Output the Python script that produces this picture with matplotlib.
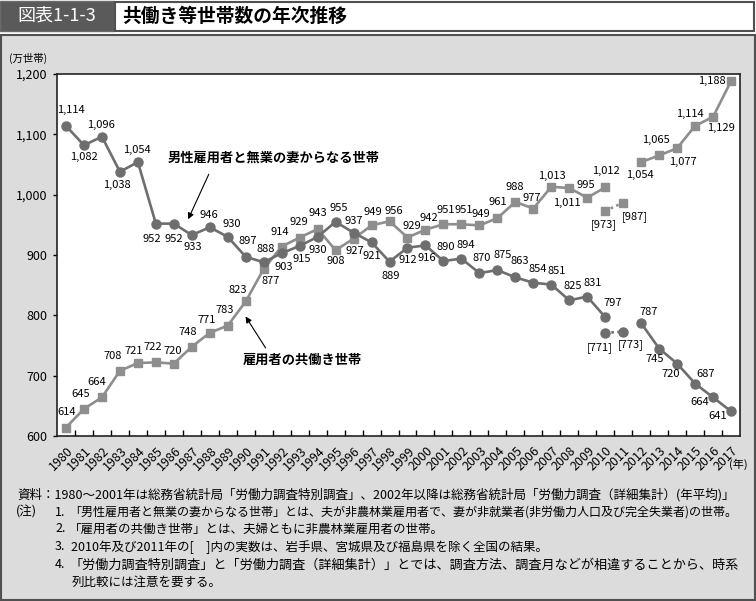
import numpy as np
import matplotlib
matplotlib.use('Agg')
import matplotlib.pyplot as plt
from matplotlib.patches import Rectangle
from matplotlib.transforms import ScaledTranslation

plt.rcParams['font.family'] = ['Noto Sans CJK JP', 'DejaVu Sans']

# ---------------- data ----------------
years = list(range(1980, 2018))
year_labels = [str(y) for y in years]
male_only = [1114, 1082, 1096, 1038, 1054, 952, 952, 933, 946, 930,
             897, 888, 903, 915, 930, 955, 937, 921, 889, 912,
             916, 890, 894, 870, 875, 863, 854, 851, 825, 831,
             797, None, 787, 745, 720, 687, 664, 641]
dual_income = [614, 645, 664, 708, 721, 722, 720, 748, 771, 783,
               823, 877, 914, 929, 943, 908, 927, 949, 956, 929,
               942, 951, 951, 949, 961, 988, 977, 1013, 1011, 995,
               1012, None, 1054, 1065, 1077, 1114, 1129, 1188]
bracket_years = [2010, 2011]
male_only_bracket = [771, 773]
dual_income_bracket = [973, 987]
yticks = [600, 700, 800, 900, 1000, 1100, 1200]

series_male_name = '男性雇用者と無業の妻からなる世帯'
series_dual_name = '雇用者の共働き世帯'
fig_no = '図表1-1-3'
title = '共働き等世帯数の年次推移'
notes = [
    ('資料：1980～2001年は総務省統計局「労働力調査特別調査」、2002年以降は総務省統計局「労働力調査（詳細集計）(年平均)」', 17, 495, 721),
    ('(注)', 16, 512, None),
    ('1.', 55, 512, None),
    ('「男性雇用者と無業の妻からなる世帯」とは、夫が非農林業雇用者で、妻が非就業者(非労働力人口及び完全失業者)の世帯。', 69, 512, 671),
    ('2.', 55, 529, None),
    ('「雇用者の共働き世帯」とは、夫婦ともに非農林業雇用者の世帯。', 69, 529, None),
    ('3.', 55, 547, None),
    ('2010年及び2011年の[　]内の実数は、岩手県、宮城県及び福島県を除く全国の結果。', 71, 547, None),
    ('4.', 55, 565, None),
    ('「労働力調査特別調査」と「労働力調査（詳細集計）」とでは、調査方法、調査月などが相違することから、時系', 69, 565, 669),
    ('列比較には注意を要する。', 72, 582, None),
]

# label offsets in pixels (dx, dy), layout only
male_off = [(5, 16), (0, -12), (-1, 12), (-3, -13), (-1, 12), (-4, -15), (0, -15), (1, -12), (-1, 12), (4, 13),
            (2, 16), (2, 13), (2, -14), (2, -13), (0, -13), (3, 14), (0, 12), (0, -14), (1, -14), (0, -12),
            (1, -13), (2, 14), (4, 14), (2, 15), (5, 15), (4, 16), (4, 14), (5, 14), (4, 14), (5, 14),
            (8, 14), None, (8, 11), (-4, -10), (-6, -10), (11, 10), (-13, -5), (-13, -5)]
dual_off = [(1, 16), (-3, 15), (-5, 15), (-7, 15), (-4, 12), (-3, 15), (-1, 13), (-4, 15), (-3, 13), (-3, 16),
            (-8, 11), (7, -12), (-2, 15), (-1, 16), (0, 16), (0, -11), (1, -12), (1, 13), (4, 10), (4, 12),
            (3, 12), (2, 14), (2, 14), (1, 11), (0, 16), (-1, 15), (-2, 11), (1, 11), (-2, -15), (-1, 13),
            (1, 16), None, (-1, -13), (-3, 15), (6, -14), (-5, 12), (8, -11), (-19, 0)]
male_br_off = [(-5, -15), (8, -13)]
dual_br_off = [(-1, -14), (12, -14)]

# ---------------- figure ----------------
W, H = 756, 601
fig = plt.figure(figsize=(W / 100, H / 100), dpi=100)

bg = fig.add_axes([0, 0, 1, 1])
bg.set_xlim(0, W)
bg.set_ylim(H, 0)
bg.axis('off')
bg.add_patch(Rectangle((0, 1), 114, 30, fc='#5a5a5a', ec='#6a6a6a', lw=1))
bg.add_patch(Rectangle((115, 1.5), 639, 29, fc='white', ec='#505050', lw=1.5))
bg.add_patch(Rectangle((1, 35), 754, 565, fc='#dcdcdc', ec='#505050', lw=1.5))
bg.text(57, 16, fig_no, color='white', fontsize=13, ha='center', va='center')
bg.text(122, 16, title, fontsize=13.5, weight='bold', ha='left', va='center')
bg.text(9, 58, '(万世帯)', fontsize=7.5, ha='left', va='center')
bg.text(738, 464, '(年)', fontsize=8, ha='center', va='center')

ax = fig.add_axes([57 / W, 1 - 436 / H, 683 / W, 362 / H])
ax.set_facecolor('white')
x = np.arange(len(years))
male_arr = np.array([np.nan if v is None else v for v in male_only], dtype=float)
dual_arr = np.array([np.nan if v is None else v for v in dual_income], dtype=float)
bx = np.array([years.index(y) for y in bracket_years])

c_male = '#6e6e6e'
c_dual = '#8e8e8e'
ax.plot(x, dual_arr, color=c_dual, lw=1.9, marker='s', ms=6, zorder=3)
ax.plot(x, male_arr, color=c_male, lw=1.9, marker='o', ms=6.5, zorder=4)
ax.plot(bx, dual_income_bracket, color=c_dual, lw=1.9, ls=(0, (1, 1.3)), marker='s', ms=6, zorder=3)
ax.plot(bx, male_only_bracket, color=c_male, lw=1.9, ls=(0, (1, 1.3)), marker='o', ms=6.5, zorder=4)

lab_fs = 8
for xi, v, off in zip(x, male_only, male_off):
    if v is None:
        continue
    ax.annotate(f'{v:,}', (xi, v), xytext=off, textcoords='offset pixels',
                ha='center', va='center', fontsize=lab_fs, zorder=6)
for xi, v, off in zip(x, dual_income, dual_off):
    if v is None:
        continue
    ax.annotate(f'{v:,}', (xi, v), xytext=off, textcoords='offset pixels',
                ha='center', va='center', fontsize=lab_fs, zorder=6)
for xi, v, off in zip(bx, male_only_bracket, male_br_off):
    ax.annotate(f'[{v:,}]', (xi, v), xytext=off, textcoords='offset pixels',
                ha='center', va='center', fontsize=lab_fs, zorder=6)
for xi, v, off in zip(bx, dual_income_bracket, dual_br_off):
    ax.annotate(f'[{v:,}]', (xi, v), xytext=off, textcoords='offset pixels',
                ha='center', va='center', fontsize=lab_fs, zorder=6)

# series name callouts
ax.text(11.58, 1061, series_male_name, fontsize=9.5, weight='bold', ha='center', va='center')
ax.annotate('', xy=(6.73, 955), xytext=(8.01, 1038),
            arrowprops=dict(arrowstyle='-|>', color='black', lw=0.8, mutation_scale=9))
ax.text(13.13, 726, series_dual_name, fontsize=9.5, weight='bold', ha='center', va='center')
ax.annotate('', xy=(9.91, 802), xytext=(11.19, 742),
            arrowprops=dict(arrowstyle='-|>', color='black', lw=0.8, mutation_scale=9))

ax.set_xlim(-0.5, len(years) - 0.5)
ax.set_ylim(600, 1200)
ax.set_yticks(yticks)
ax.set_yticklabels([f'{v:,}' for v in yticks], fontsize=9)
ax.tick_params(axis='y', direction='out', length=3, width=1, pad=4)
ax.set_xticks(x)
ax.set_xticklabels(year_labels, rotation=45, ha='right', va='center',
                   rotation_mode='anchor', fontsize=9)
ax.set_xticks(x[:-1] + 0.5, minor=True)
ax.tick_params(axis='x', which='major', length=0, pad=9)
ax.tick_params(axis='x', which='minor', direction='in', length=4, width=1)
shift = ScaledTranslation(5 / 100, 0, fig.dpi_scale_trans)
for lbl in ax.get_xticklabels():
    lbl.set_transform(lbl.get_transform() + shift)
for s in ax.spines.values():
    s.set_color('#222222')
    s.set_linewidth(1.2)

# notes
txts = []
for s, nx, ny, target in notes:
    t = bg.text(nx, ny, s, fontsize=9, ha='left', va='center')
    txts.append((t, target))
fig.canvas.draw()
r = fig.canvas.get_renderer()
for t, target in txts:
    if target:
        w = t.get_window_extent(r).width
        t.set_fontsize(t.get_fontsize() * target / w)

fig.savefig('out.png', dpi=100)
